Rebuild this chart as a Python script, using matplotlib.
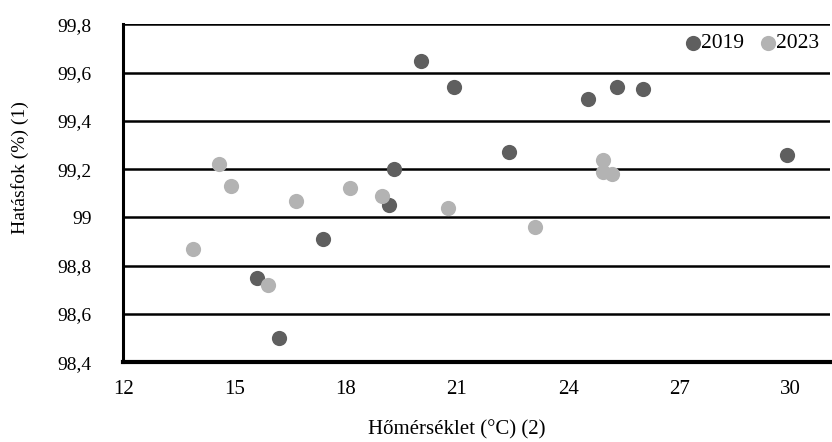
import numpy as np
import matplotlib.pyplot as plt

plt.rcParams['font.family'] = ['Liberation Serif', 'DejaVu Serif']

# 2019
x_2019 = [20.04, 20.92, 24.53, 25.31, 26.01, 22.41, 29.92, 19.30, 19.16, 17.39, 15.61, 16.20]
y_2019 = [99.65, 99.54, 99.49, 99.54, 99.53, 99.27, 99.26, 99.20, 99.05, 98.91, 98.75, 98.50]

# 2023
x_2023 = [14.59, 14.91, 16.66, 18.12, 18.97, 13.88, 15.91, 20.76, 23.11, 24.93, 24.94, 25.19]
y_2023 = [99.22, 99.13, 99.07, 99.12, 99.09, 98.87, 98.72, 99.04, 98.96, 99.24, 99.19, 99.18]

x_ticks = [12, 15, 18, 21, 24, 27, 30]
y_ticks = [98.4, 98.6, 98.8, 99.0, 99.2, 99.4, 99.6, 99.8]
y_ticklabels = ['98,4', '98,6', '98,8', '99', '99,2', '99,4', '99,6', '99,8']

fig = plt.figure(figsize=(8.32, 4.42), dpi=100)
ax = fig.add_axes([0.1484, 0.1803, 0.8492, 0.7647])

ax.scatter(x_2019, y_2019, s=120, color='#5f5f5f', label='2019', zorder=3, linewidths=0)
ax.scatter(x_2023, y_2023, s=120, color='#b3b3b3', label='2023', zorder=3, linewidths=0)

ax.set_xlim(12, 31.07)
ax.set_ylim(98.4, 99.8)
ax.set_xticks(x_ticks)
ax.set_xticklabels([str(t) for t in x_ticks])
ax.set_yticks(y_ticks)
ax.set_yticklabels(y_ticklabels)
ax.tick_params(length=0)
ax.tick_params(axis='y', pad=23, labelsize=14)
ax.tick_params(axis='x', pad=13, labelsize=15)

ax.grid(axis='y', color='black', linewidth=1.8, zorder=1)
for s in ['top', 'right']:
    ax.spines[s].set_visible(False)
ax.spines['left'].set_linewidth(2.2)
ax.spines['bottom'].set_linewidth(3)

fig.text(457 / 832, 1 - 430 / 442, 'Hőmérséklet (°C) (2)', ha='center', va='center', fontsize=15)
fig.text(20 / 832, 1 - 168 / 442, 'Hatásfok (%) (1)', ha='center', va='center',
         rotation=90, fontsize=14)

ax.legend(loc='upper right', bbox_to_anchor=(1.005, 1.015), frameon=False, ncol=2,
          fontsize=15.5, handletextpad=-0.2, columnspacing=0.5, borderaxespad=0.25,
          handlelength=1.2, markerscale=1.0)

fig.savefig('out.png', dpi=100)
